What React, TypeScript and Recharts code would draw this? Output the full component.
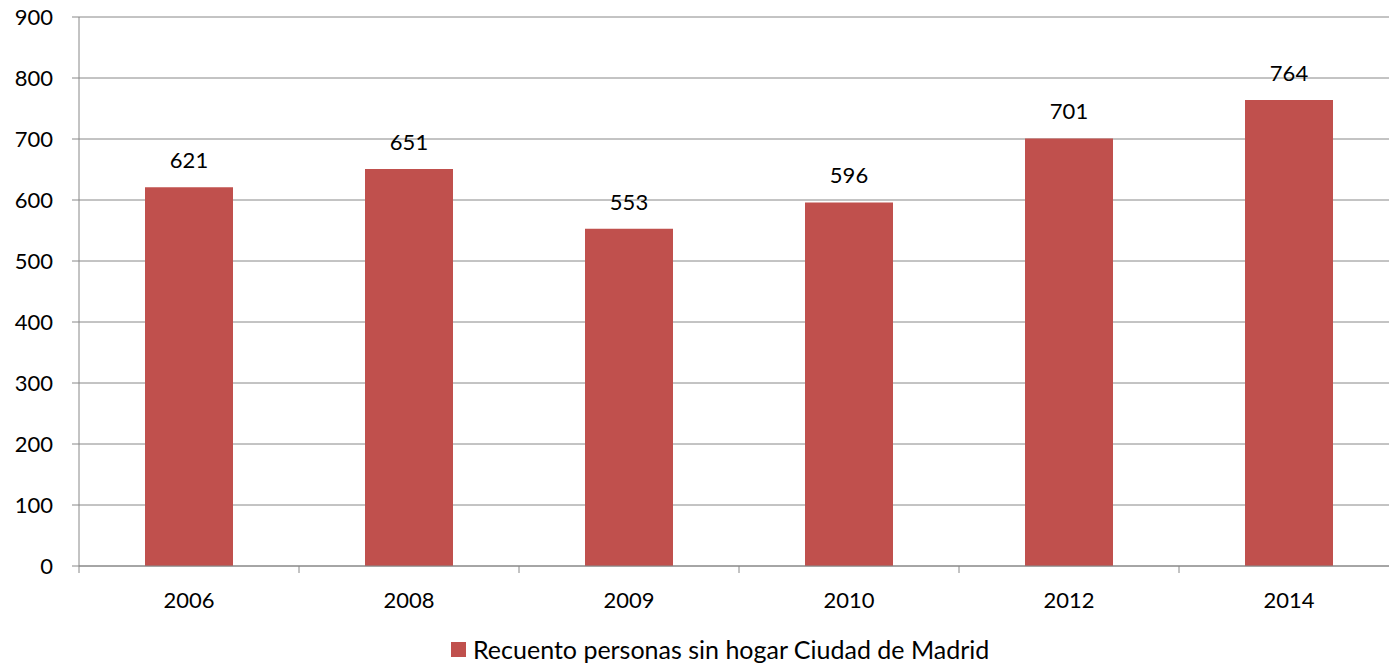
import React from "react";
import { BarChart, Bar, XAxis, YAxis, CartesianGrid, Legend, LabelList } from "recharts";

const years = ["2006", "2008", "2009", "2010", "2012", "2014"];
const counts = [621, 651, 553, 596, 701, 764];
const yTicks = [0, 100, 200, 300, 400, 500, 600, 700, 800, 900];
const seriesName = "Recuento personas sin hogar Ciudad de Madrid";

const data = years.map((y, i) => ({ year: y, value: counts[i] }));

const FONT = "Lato, 'Noto Sans', sans-serif";
const GRAY = "#888888";
const BAR = "#C0504D";

const XTick = (props: any) => {
  const { x, y, payload, index } = props;
  const half = payload.offset || 0;
  const last = index === years.length - 1;
  return (
    <g>
      <line x1={x - half} x2={x - half} y1={y} y2={y + 7} stroke={GRAY} strokeWidth={1} />
      {last && <line x1={x + half} x2={x + half} y1={y} y2={y + 7} stroke={GRAY} strokeWidth={1} />}
      <text x={x} y={y + 26} dy="0.72em" textAnchor="middle" fill="#000" fontSize={22} fontFamily={FONT}>
        {payload.value}
      </text>
    </g>
  );
};

const LegendContent = () => (
  <div style={{ display: "flex", alignItems: "center", fontFamily: FONT, fontSize: 25, color: "#000", whiteSpace: "nowrap" }}>
    <span style={{ display: "inline-block", width: 15, height: 15, background: BAR, marginRight: 7 }} />
    <span>{seriesName}</span>
  </div>
);

export default function App() {
  return (
    <div style={{ position: "absolute", left: 0, top: 0, width: 1389, height: 668, overflow: "hidden", background: "#fff" }}>
      <BarChart
        width={1401}
        height={668}
        data={data}
        margin={{ top: 17, right: 2, left: 0, bottom: 0 }}
      >
        <CartesianGrid vertical={false} stroke={GRAY} strokeWidth={1} />
        <XAxis
          dataKey="year"
          height={102}
          axisLine={{ stroke: GRAY }}
          tickLine={false}
          tickSize={0}
          tickMargin={0}
          interval={0}
          tick={<XTick />}
        />
        <YAxis
          width={79}
          domain={[0, 900]}
          ticks={yTicks}
          interval={0}
          axisLine={{ stroke: GRAY }}
          tickLine={{ stroke: GRAY }}
          tickSize={7}
          tickMargin={19}
          tick={{ fill: "#000", fontSize: 22, fontFamily: FONT }}
        />
        <Legend
          layout="horizontal"
          verticalAlign="middle"
          align="center"
          content={<LegendContent />}
          wrapperStyle={{ top: 634, left: 451, width: "auto" }}
        />
        <Bar dataKey="value" name={seriesName} fill={BAR} barSize={88} isAnimationActive={false}>
          <LabelList dataKey="value" position="top" offset={19} fill="#000" fontSize={22} fontFamily={FONT} />
        </Bar>
      </BarChart>
    </div>
  );
}
